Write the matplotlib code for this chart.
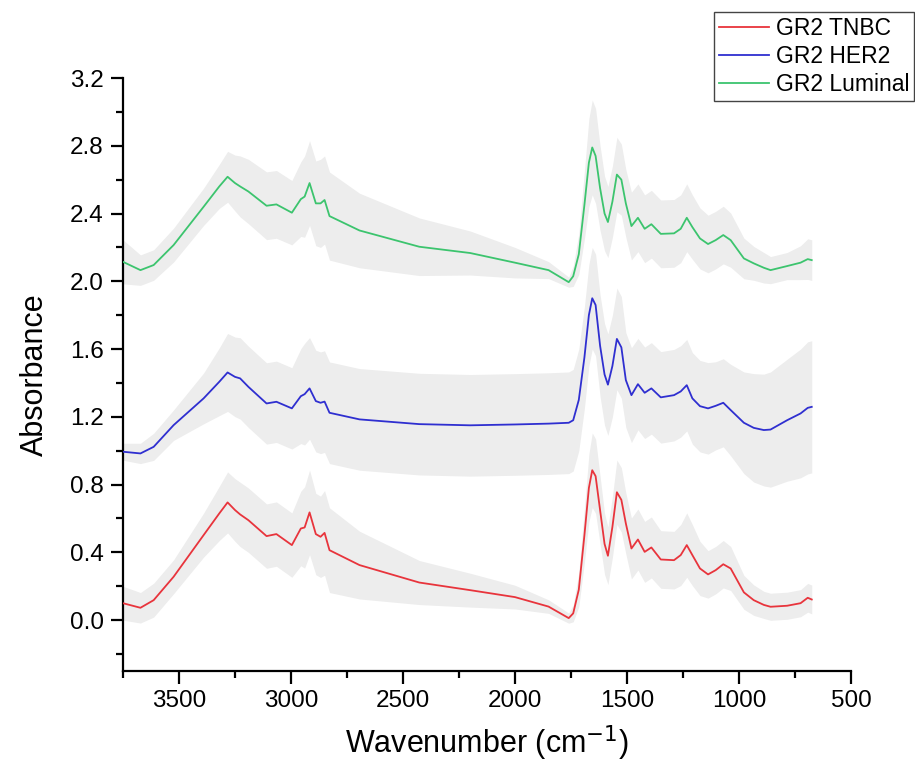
import matplotlib

matplotlib.use("Agg")
import matplotlib.pyplot as plt
from matplotlib.ticker import MultipleLocator

plt.rcParams["font.family"] = ["Liberation Sans", "DejaVu Sans"]

# Wavenumber grid (cm-1) shared by the three mean spectra
WAVENUMBER = [
    3750, 3672, 3613, 3524, 3390, 3320, 3283, 3250, 3227, 3190,
    3109, 3065, 2996, 2956, 2939, 2917, 2889, 2868, 2850, 2828,
    2694, 2427, 2200, 2000, 1850, 1760, 1740, 1715, 1690, 1670,
    1655, 1640, 1620, 1600, 1585, 1565, 1545, 1525, 1505, 1480,
    1451, 1421, 1391, 1349, 1290, 1260, 1233, 1208, 1174, 1138,
    1104, 1070, 1037, 978, 934, 889, 859, 785, 725, 693,
    675,
]

LABELS = ["GR2 TNBC", "GR2 HER2", "GR2 Luminal"]
COLORS = ["#e8343c", "#2f2fd0", "#3cc46e"]

TNBC = [
    0.100, 0.073, 0.118, 0.256, 0.502, 0.630, 0.695, 0.650, 0.624, 0.590,
    0.496, 0.508, 0.443, 0.541, 0.547, 0.636, 0.508, 0.492, 0.515, 0.413,
    0.325, 0.222, 0.177, 0.136, 0.080, 0.012, 0.040, 0.180, 0.500, 0.780,
    0.885, 0.850, 0.650, 0.450, 0.380, 0.550, 0.755, 0.710, 0.571, 0.423,
    0.476, 0.403, 0.429, 0.358, 0.354, 0.384, 0.443, 0.384, 0.305, 0.270,
    0.295, 0.330, 0.305, 0.164, 0.118, 0.090, 0.079, 0.085, 0.100, 0.132,
    0.122,
]
TNBC_SD = [
    0.10, 0.09, 0.10, 0.10, 0.13, 0.16, 0.18, 0.185, 0.19, 0.19,
    0.19, 0.19, 0.19, 0.22, 0.24, 0.25, 0.24, 0.24, 0.25, 0.25,
    0.20, 0.13, 0.10, 0.07, 0.04, 0.03, 0.05, 0.10, 0.16, 0.20,
    0.22, 0.22, 0.20, 0.18, 0.17, 0.18, 0.19, 0.19, 0.18, 0.18,
    0.18, 0.18, 0.18, 0.17, 0.17, 0.18, 0.19, 0.18, 0.16, 0.14,
    0.14, 0.14, 0.13, 0.10, 0.09, 0.08, 0.08, 0.08, 0.08, 0.085,
    0.085,
]

HER2 = [
    0.994, 0.984, 1.023, 1.151, 1.309, 1.407, 1.462, 1.436, 1.427, 1.377,
    1.279, 1.289, 1.250, 1.322, 1.334, 1.368, 1.293, 1.283, 1.290, 1.224,
    1.185, 1.157, 1.150, 1.155, 1.160, 1.165, 1.180, 1.300, 1.550, 1.800,
    1.900, 1.860, 1.620, 1.450, 1.390, 1.500, 1.660, 1.610, 1.417, 1.328,
    1.393, 1.342, 1.368, 1.315, 1.328, 1.350, 1.387, 1.309, 1.263, 1.250,
    1.265, 1.283, 1.240, 1.165, 1.135, 1.122, 1.125, 1.180, 1.220, 1.253,
    1.259,
]
HER2_SD = [
    0.05, 0.06, 0.08, 0.09, 0.15, 0.20, 0.23, 0.235, 0.24, 0.24,
    0.24, 0.24, 0.24, 0.28, 0.30, 0.30, 0.30, 0.30, 0.30, 0.30,
    0.30, 0.30, 0.30, 0.30, 0.30, 0.30, 0.30, 0.30, 0.30, 0.30,
    0.30, 0.30, 0.30, 0.30, 0.30, 0.30, 0.30, 0.30, 0.28, 0.28,
    0.27, 0.27, 0.27, 0.27, 0.27, 0.27, 0.27, 0.27, 0.27, 0.27,
    0.26, 0.26, 0.27, 0.30, 0.32, 0.33, 0.34, 0.36, 0.38, 0.39,
    0.39,
]

LUMINAL = [
    2.115, 2.066, 2.096, 2.214, 2.440, 2.560, 2.617, 2.580, 2.560, 2.530,
    2.446, 2.454, 2.405, 2.485, 2.500, 2.580, 2.460, 2.460, 2.480, 2.385,
    2.300, 2.204, 2.167, 2.110, 2.066, 1.995, 2.030, 2.160, 2.450, 2.700,
    2.790, 2.740, 2.550, 2.400, 2.350, 2.470, 2.630, 2.600, 2.460, 2.326,
    2.375, 2.310, 2.337, 2.280, 2.283, 2.310, 2.375, 2.320, 2.253, 2.220,
    2.243, 2.273, 2.243, 2.135, 2.106, 2.080, 2.066, 2.090, 2.110, 2.131,
    2.125,
]
LUMINAL_SD = [
    0.13, 0.09, 0.09, 0.10, 0.11, 0.13, 0.15, 0.165, 0.18, 0.19,
    0.20, 0.20, 0.19, 0.22, 0.24, 0.25, 0.25, 0.26, 0.26, 0.26,
    0.22, 0.17, 0.13, 0.09, 0.05, 0.03, 0.06, 0.12, 0.20, 0.26,
    0.28, 0.28, 0.25, 0.22, 0.21, 0.21, 0.22, 0.21, 0.20, 0.20,
    0.20, 0.20, 0.20, 0.20, 0.20, 0.20, 0.20, 0.19, 0.18, 0.17,
    0.17, 0.17, 0.16, 0.12, 0.10, 0.09, 0.08, 0.08, 0.10, 0.12,
    0.12,
]


def main() -> None:
    fig = plt.figure(figsize=(9.15, 7.67), dpi=100)
    ax = fig.add_axes([0.1344, 0.1252, 0.7956, 0.7731])

    series = [(TNBC, TNBC_SD), (HER2, HER2_SD), (LUMINAL, LUMINAL_SD)]

    # shaded standard deviation bands first, then mean lines on top
    for mean, sd in series:
        lower = [m - s for m, s in zip(mean, sd)]
        upper = [m + s for m, s in zip(mean, sd)]
        ax.fill_between(WAVENUMBER, lower, upper, color="#ededed",
                        linewidth=0, zorder=1)
    for (mean, _), label, color in zip(series, LABELS, COLORS):
        ax.plot(WAVENUMBER, mean, color=color, linewidth=1.3, label=label,
                zorder=3)

    ax.set_xlim(3750, 500)
    ax.set_ylim(-0.3, 3.2)
    ax.xaxis.set_major_locator(MultipleLocator(500))
    ax.xaxis.set_minor_locator(MultipleLocator(250))
    ax.yaxis.set_major_locator(MultipleLocator(0.4))
    ax.yaxis.set_minor_locator(MultipleLocator(0.2))
    ax.yaxis.set_major_formatter(lambda v, _: f"{v:.1f}")

    for side in ("top", "right"):
        ax.spines[side].set_visible(False)
    for side in ("left", "bottom"):
        ax.spines[side].set_linewidth(1.6)
    ax.tick_params(which="major", direction="out", length=9, width=1.6,
                   labelsize=17.5, pad=5)
    ax.tick_params(which="minor", direction="out", length=5, width=1.6)

    ax.set_xlabel("Wavenumber (cm$^{-1}$)", fontsize=22, labelpad=8)
    ax.set_ylabel("Absorbance", fontsize=22, labelpad=14)

    fig.legend(loc="upper right", bbox_to_anchor=(0.999, 0.984),
               fontsize=16.5, frameon=True, fancybox=False,
               edgecolor="#444444", framealpha=1, borderpad=0.2,
               labelspacing=0.22, handlelength=2.2, handletextpad=0.3,
               borderaxespad=0)

    fig.savefig("out.png", dpi=100)
    plt.close(fig)


if __name__ == "__main__":
    main()
